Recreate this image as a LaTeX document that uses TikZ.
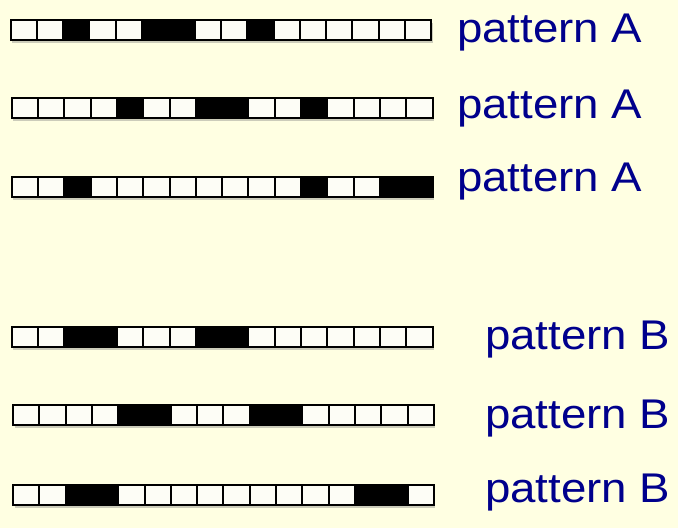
\documentclass[tikz,border=0pt]{standalone}
\usepackage{fontspec}
\newfontfamily\labelfont{Liberation Sans}
\usetikzlibrary{shadows}
\definecolor{paper}{RGB}{255,255,226}
\definecolor{cellwhite}{RGB}{253,253,246}
\definecolor{labelblue}{RGB}{0,0,140}

\begin{document}
\begin{tikzpicture}[x=1pt, y=1pt,
    cell/.style={draw=black, line width=2pt, fill=cellwhite, inner sep=0pt, outer sep=0pt,
        minimum width=26.3pt, minimum height=20pt,
        drop shadow={shadow xshift=1.5pt, shadow yshift=-3pt, opacity=0.4}},
    oncell/.style={draw=black, line width=2pt, fill=black, inner sep=0pt, outer sep=0pt,
        minimum width=26.3pt, minimum height=20pt},
    patlabel/.style={anchor=base west, inner sep=0pt, text=labelblue,
        font=\labelfont\fontsize{41.5}{41.5}\selectfont}]

    \newcommand{\patternrow}[4]{% #1 name, #2 left x, #3 centre y, #4 black cells
        \foreach \c in {0,...,15}
            \node[cell] (#1-\c) at ({#2+(\c+0.5)*26.3}, -#3) {};
        \foreach \c in {#4}
            \node[oncell] (#1-\c-on) at (#1-\c) {};
    }

    %% Background
    \fill[paper] (0,0) rectangle (678,-528);
    \useasboundingbox (0,0) rectangle (678,-528);

    %% Pattern A rows
    \patternrow{a1}{10.5}{29.5}{2, 5, 6, 9}
    \patternrow{a2}{11.7}{107.7}{4, 7, 8, 11}
    \patternrow{a3}{11.7}{186.7}{2, 11, 14, 15}

    %% Pattern B rows
    \patternrow{b1}{11.7}{336.7}{2, 3, 7, 8}
    \patternrow{b2}{13}{415}{4, 5, 9, 10}
    \patternrow{b3}{13}{494.5}{2, 3, 13, 14}

    %% Labels
    \node[patlabel] (la1) at (457, -42.7) {\scalebox{1.1}[1]{pattern A}};
    \node[patlabel] (la2) at (457, -118) {\scalebox{1.1}[1]{pattern A}};
    \node[patlabel] (la3) at (457, -191.7) {\scalebox{1.1}[1]{pattern A}};
    \node[patlabel] (lb1) at (485, -349.3) {\scalebox{1.1}[1]{pattern B}};
    \node[patlabel] (lb2) at (485, -428) {\scalebox{1.1}[1]{pattern B}};
    \node[patlabel] (lb3) at (485, -502) {\scalebox{1.1}[1]{pattern B}};

\end{tikzpicture}
\end{document}
